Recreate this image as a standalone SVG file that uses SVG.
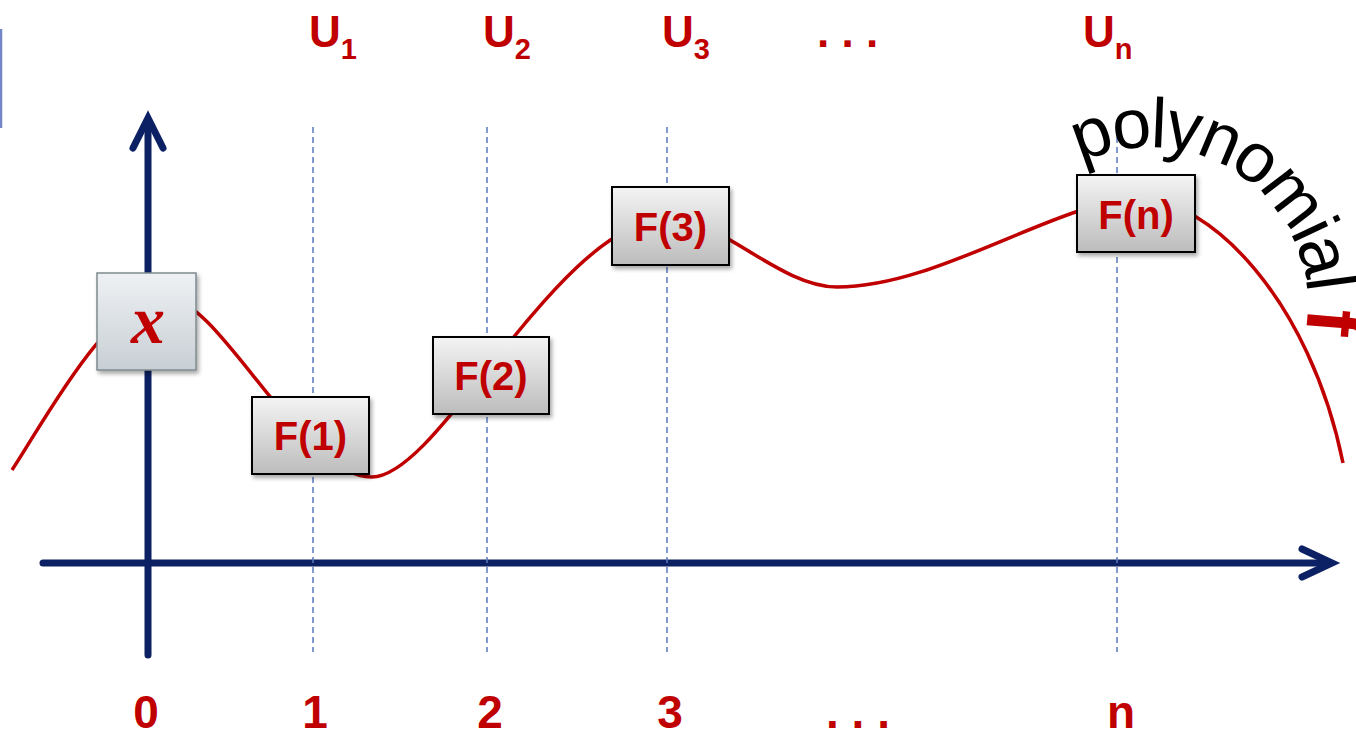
<svg xmlns="http://www.w3.org/2000/svg" width="1356" height="731" viewBox="0 0 1356 731">
<style>
.axis{stroke:#0b2163;stroke-width:7;fill:none;stroke-linecap:round;stroke-linejoin:miter}
.dash{stroke:#5a78bd;stroke-width:1.5;stroke-dasharray:6 4;fill:none}
.curve{stroke:#c00000;stroke-width:3.5;fill:none}
.fbox{fill:url(#gF);stroke:#000;stroke-width:2;filter:url(#sh)}
.xbox{fill:url(#gX);stroke:#7f8a8f;stroke-width:1.5;filter:url(#sh)}
.ft{font-family:"Liberation Sans",Arial,sans-serif;font-weight:bold;font-size:40px;fill:#c00000;text-anchor:middle}
.lbl{font-family:"Liberation Sans",Arial,sans-serif;font-weight:bold;font-size:46px;fill:#c00000;text-anchor:middle}
.top{font-family:"Liberation Sans",Arial,sans-serif;font-weight:bold;font-size:44px;fill:#c00000}
.sub{font-size:29px}
.poly{font-family:"Liberation Sans",Arial,sans-serif;font-size:70px;letter-spacing:-3px;fill:#000}
</style>
<defs>
<linearGradient id="gF" x1="0" y1="0" x2="0" y2="1">
<stop offset="0" stop-color="#f4f4f4"/><stop offset="1" stop-color="#bcbcbc"/>
</linearGradient>
<linearGradient id="gX" x1="0" y1="0" x2="0" y2="1">
<stop offset="0" stop-color="#eef1f4"/><stop offset="1" stop-color="#c8cfd4"/>
</linearGradient>
<filter id="sh" x="-20%" y="-20%" width="140%" height="150%">
<feDropShadow dx="2" dy="3" stdDeviation="2" flood-color="#000" flood-opacity="0.35"/>
</filter>
<path id="arc" d="M 1080.8,163 A 158 158 0 0 1 1251.6,426"/>
</defs>

<line x1="1" y1="29" x2="1" y2="128" stroke="#7285c6" stroke-width="2.5"/>

<g id="connectors">
<line class="axis" x1="148" y1="655" x2="148" y2="121"/>
<polyline class="axis" points="133,148 148,118 163,148"/>
<line class="axis" x1="43" y1="563" x2="1329" y2="563"/>
<polyline class="axis" points="1302,549 1332,563 1302,577"/>
<line class="dash" x1="313" y1="127" x2="313" y2="652"/>
<line class="dash" x1="487" y1="127" x2="487" y2="652"/>
<line class="dash" x1="667" y1="127" x2="667" y2="652"/>
<line class="dash" x1="1117" y1="127" x2="1117" y2="652"/>
<path id="curve" class="curve" d="M 12,470 C 45,420 110,297 165,297 C 220,297 300,477 372,477 C 440,477 560,218 670,218 C 720,218 780,287 837,287 C 940,287 1060,199 1140,199 C 1210,199 1310,300 1343,463"/>
</g>

<g id="node-x">
<rect class="xbox" x="97" y="273" width="99" height="97"/>
<text x="148" y="343" font-family="'Liberation Serif','Times New Roman',serif" font-style="italic" font-weight="bold" font-size="68" fill="#c00000" text-anchor="middle">x</text>
</g>
<g id="node-f1">
<rect class="fbox" x="252" y="397" width="117" height="77"/>
<text class="ft" x="310.5" y="450">F(1)</text>
</g>
<g id="node-f2">
<rect class="fbox" x="433" y="337" width="116" height="77"/>
<text class="ft" x="491" y="390">F(2)</text>
</g>
<g id="node-f3">
<rect class="fbox" x="612" y="187" width="117" height="78"/>
<text class="ft" x="670.5" y="241">F(3)</text>
</g>
<g id="node-fn">
<rect class="fbox" x="1077" y="175" width="118" height="77"/>
<text class="ft" x="1136" y="229">F(n)</text>
</g>

<g id="top-labels">
<text class="top" x="309" y="47">U<tspan class="sub" dy="12">1</tspan></text>
<text class="top" x="483" y="47">U<tspan class="sub" dy="12">2</tspan></text>
<text class="top" x="662" y="47">U<tspan class="sub" dy="12">3</tspan></text>
<text class="top" x="817" y="47">. . .</text>
<text class="top" x="1083" y="47">U<tspan class="sub" dy="12">n</tspan></text>
</g>

<g id="bottom-labels">
<text class="lbl" x="146" y="728">0</text>
<text class="lbl" x="315" y="728">1</text>
<text class="lbl" x="490" y="728">2</text>
<text class="lbl" x="670" y="728">3</text>
<text class="lbl" x="858" y="728">. . .</text>
<text class="lbl" x="1121" y="728">n</text>
</g>

<g id="polynomial-label">
<text class="poly"><textPath href="#arc">polynomial <tspan font-weight="bold" font-size="80" fill="#c00000">f</tspan></textPath></text>
</g>
</svg>
